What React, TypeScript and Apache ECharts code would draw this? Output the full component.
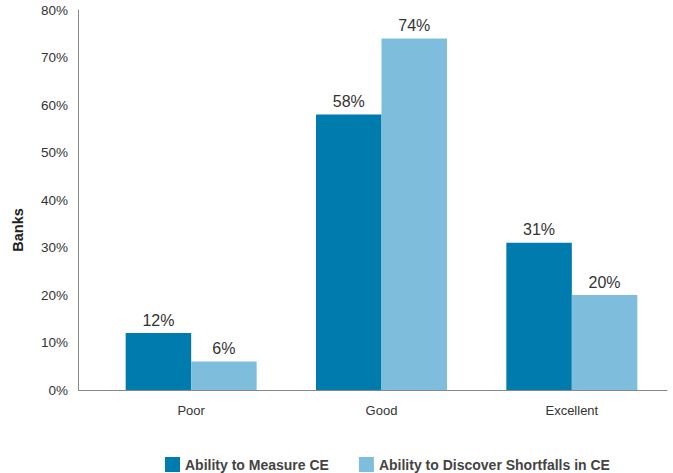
import React, { useEffect, useRef } from "react";
import * as echarts from "echarts";

const categories = ["Poor", "Good", "Excellent"];
const measureCE = [12, 58, 31];
const discoverShortfalls = [6, 74, 20];
const seriesNames = ["Ability to Measure CE", "Ability to Discover Shortfalls in CE"];
const yAxisName = "Banks";

const DARK = "#007bae";
const LIGHT = "#7fbddd";
const FONT = "'Liberation Sans', Arial, Helvetica, sans-serif";

export default function App() {
  const ref = useRef<HTMLDivElement>(null);
  useEffect(() => {
    if (!ref.current) return;
    const chart = echarts.init(ref.current, null, { renderer: "svg" });
    const label = {
      show: true,
      position: "top" as const,
      distance: 5,
      formatter: "{c}%",
      color: "#333",
      fontSize: 16,
      fontFamily: FONT,
    };
    chart.setOption({
      animation: false,
      textStyle: { fontFamily: FONT },
      grid: { left: 96, right: 6, top: 10, bottom: 83, containLabel: false },
      legend: {
        left: 160,
        top: 452,
        itemWidth: 15,
        itemHeight: 15,
        itemGap: 30,
        icon: "rect",
        textStyle: { fontSize: 14, fontWeight: "bold", color: "#444", fontFamily: FONT },
        data: seriesNames,
      },
      xAxis: {
        type: "category",
        data: categories,
        axisLine: { lineStyle: { color: "#888", width: 1 } },
        axisTick: { show: false },
        axisLabel: { color: "#333", fontSize: 13, margin: 14, fontFamily: FONT },
      },
      yAxis: {
        type: "value",
        min: 0,
        max: 80,
        interval: 10,
        offset: 18,
        axisLine: { show: true, lineStyle: { color: "#888", width: 1 } },
        axisTick: { show: false },
        splitLine: { show: false },
        axisLabel: { formatter: "{value}%", color: "#333", fontSize: 13.5, margin: 10, fontFamily: FONT },
      },
      graphic: [
        {
          type: "line",
          shape: { x1: 78, y1: 390.5, x2: 96, y2: 390.5 },
          style: { stroke: "#888", lineWidth: 1 },
        },
        {
          type: "text",
          x: 18,
          y: 230,
          rotation: Math.PI / 2,
          style: {
            text: yAxisName,
            fontSize: 14.5,
            fontWeight: "bold",
            fill: "#222",
            fontFamily: FONT,
            align: "center",
            verticalAlign: "middle",
          },
        },
      ],
      series: [
        {
          name: seriesNames[0],
          type: "bar",
          data: measureCE,
          barWidth: 65.5,
          barGap: "0%",
          itemStyle: { color: DARK },
          label,
        },
        {
          name: seriesNames[1],
          type: "bar",
          data: discoverShortfalls,
          barWidth: 65.5,
          barGap: "0%",
          itemStyle: { color: LIGHT },
          label,
        },
      ],
    });
    return () => chart.dispose();
  }, []);
  return (
    <div
      ref={ref}
      style={{ position: "fixed", left: 0, top: 0, width: 673, height: 473, background: "#fff" }}
    />
  );
}
